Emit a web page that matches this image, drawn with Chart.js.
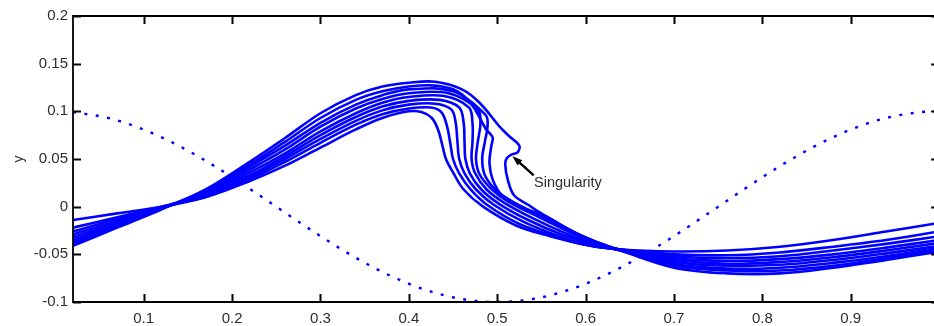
<!DOCTYPE html>
<html>
<head>
<meta charset="utf-8">
<script src="https://cdn.jsdelivr.net/npm/chart.js@4/dist/chart.umd.min.js"></script>
<style>
  html, body { margin: 0; padding: 0; background: #fff; overflow: hidden; }
  canvas { display: block; }
</style>
</head>
<body>
<canvas id="c" width="934" height="326"></canvas>
<script>
// Initial interface y = 0.1 cos(2πx), sampled along x (dotted curve)
const initialX = [0.02, 0.06, 0.10, 0.14, 0.18, 0.22, 0.26, 0.30, 0.34, 0.38, 0.42, 0.46, 0.50,
                  0.54, 0.58, 0.62, 0.66, 0.70, 0.74, 0.78, 0.82, 0.86, 0.90, 0.94, 0.98, 1.00];
const initialY = [0.0992, 0.0930, 0.0809, 0.0637, 0.0426, 0.0187, -0.0063, -0.0309, -0.0536, -0.0729, -0.0876, -0.0969, -0.1000,
                  -0.0969, -0.0876, -0.0729, -0.0536, -0.0309, -0.0063, 0.0187, 0.0426, 0.0637, 0.0809, 0.0930, 0.0992, 0.1000];

// Interface profiles at successive times, as (x, y) pairs along the sheet
const profile1 = [[0.02,-0.014],[0.07,-0.007],[0.12,0.000],[0.17,0.010],[0.22,0.027],[0.26,0.043],[0.30,0.062],[0.34,0.081],[0.37,0.093],[0.40,0.100],[0.415,0.099],[0.426,0.093],[0.433,0.081],[0.438,0.064],[0.442,0.050],[0.450,0.036],[0.462,0.018],[0.484,0.000],[0.522,-0.020],[0.56,-0.031],[0.60,-0.040],[0.64,-0.045],[0.70,-0.047],[0.76,-0.046],[0.82,-0.042],[0.88,-0.035],[0.94,-0.026],[1.00,-0.017]];
const profile2 = [[0.02,-0.022],[0.07,-0.011],[0.12,0.000],[0.17,0.011],[0.22,0.029],[0.26,0.047],[0.30,0.067],[0.34,0.086],[0.37,0.097],[0.40,0.103],[0.425,0.104],[0.437,0.099],[0.443,0.085],[0.447,0.066],[0.450,0.050],[0.457,0.035],[0.470,0.018],[0.490,0.001],[0.525,-0.018],[0.565,-0.031],[0.60,-0.040],[0.64,-0.045],[0.70,-0.050],[0.76,-0.051],[0.82,-0.048],[0.88,-0.042],[0.94,-0.035],[1.00,-0.026]];
const profile3 = [[0.02,-0.026],[0.07,-0.013],[0.12,-0.001],[0.17,0.012],[0.22,0.031],[0.26,0.050],[0.30,0.071],[0.34,0.090],[0.37,0.101],[0.40,0.107],[0.43,0.108],[0.448,0.102],[0.453,0.088],[0.455,0.068],[0.457,0.050],[0.463,0.035],[0.476,0.018],[0.496,0.002],[0.530,-0.016],[0.570,-0.031],[0.605,-0.041],[0.64,-0.045],[0.70,-0.052],[0.76,-0.054],[0.82,-0.052],[0.88,-0.046],[0.94,-0.039],[1.00,-0.031]];
const profile4 = [[0.02,-0.029],[0.07,-0.015],[0.12,-0.001],[0.17,0.013],[0.22,0.033],[0.26,0.053],[0.30,0.075],[0.34,0.094],[0.37,0.105],[0.40,0.111],[0.435,0.112],[0.457,0.104],[0.462,0.088],[0.463,0.068],[0.464,0.050],[0.469,0.035],[0.482,0.018],[0.502,0.003],[0.535,-0.014],[0.575,-0.030],[0.61,-0.040],[0.64,-0.045],[0.70,-0.054],[0.76,-0.057],[0.82,-0.055],[0.88,-0.050],[0.94,-0.043],[1.00,-0.035]];
const profile5 = [[0.02,-0.032],[0.07,-0.017],[0.12,-0.001],[0.17,0.014],[0.22,0.036],[0.26,0.056],[0.30,0.079],[0.34,0.098],[0.37,0.109],[0.40,0.115],[0.44,0.116],[0.468,0.104],[0.472,0.088],[0.472,0.068],[0.471,0.050],[0.475,0.035],[0.488,0.018],[0.508,0.004],[0.540,-0.012],[0.580,-0.029],[0.612,-0.040],[0.64,-0.046],[0.70,-0.056],[0.76,-0.060],[0.82,-0.058],[0.88,-0.053],[0.94,-0.046],[1.00,-0.038]];
const profile6 = [[0.02,-0.035],[0.07,-0.018],[0.12,-0.002],[0.17,0.015],[0.22,0.039],[0.26,0.060],[0.30,0.084],[0.34,0.103],[0.37,0.113],[0.40,0.119],[0.445,0.119],[0.478,0.102],[0.481,0.088],[0.478,0.068],[0.476,0.050],[0.480,0.034],[0.494,0.018],[0.513,0.005],[0.545,-0.010],[0.585,-0.028],[0.615,-0.040],[0.64,-0.046],[0.70,-0.058],[0.76,-0.062],[0.82,-0.061],[0.88,-0.056],[0.94,-0.049],[1.00,-0.041]];
const profile7 = [[0.02,-0.037],[0.07,-0.019],[0.12,-0.002],[0.17,0.016],[0.22,0.042],[0.26,0.064],[0.30,0.088],[0.34,0.107],[0.37,0.117],[0.40,0.123],[0.45,0.121],[0.487,0.096],[0.489,0.084],[0.486,0.068],[0.483,0.050],[0.486,0.033],[0.499,0.017],[0.518,0.005],[0.548,-0.009],[0.590,-0.028],[0.620,-0.040],[0.64,-0.046],[0.70,-0.060],[0.76,-0.065],[0.82,-0.064],[0.88,-0.059],[0.94,-0.052],[1.00,-0.043]];
const profile8 = [[0.02,-0.039],[0.07,-0.021],[0.12,-0.002],[0.17,0.017],[0.22,0.044],[0.26,0.068],[0.30,0.093],[0.34,0.112],[0.37,0.121],[0.40,0.126],[0.43,0.127],[0.455,0.121],[0.472,0.106],[0.4875,0.081],[0.4947,0.073],[0.4932,0.063],[0.4912,0.046],[0.495,0.028],[0.506,0.011],[0.525,0.000],[0.552,-0.009],[0.592,-0.029],[0.64,-0.046],[0.70,-0.062],[0.76,-0.067],[0.82,-0.067],[0.88,-0.062],[0.94,-0.054],[1.00,-0.045]];
const profile9 = [[0.02,-0.041],[0.07,-0.022],[0.12,-0.003],[0.17,0.018],[0.22,0.047],[0.26,0.072],[0.30,0.098],[0.34,0.117],[0.37,0.126],[0.40,0.130],[0.43,0.131],[0.46,0.123],[0.48,0.109],[0.5045,0.082],[0.516,0.072],[0.525,0.064],[0.523,0.057],[0.516,0.0547],[0.511,0.051],[0.509,0.045],[0.512,0.028],[0.519,0.012],[0.535,0.002],[0.548,-0.006],[0.596,-0.031],[0.64,-0.046],[0.70,-0.064],[0.76,-0.070],[0.82,-0.070],[0.88,-0.064],[0.94,-0.056],[1.00,-0.047]];

const profiles = [profile1, profile2, profile3, profile4, profile5, profile6, profile7, profile8, profile9];

// Axis ticks (the x axis runs on to 1, just past the visible right edge)
const xTickValues = [0.1, 0.2, 0.3, 0.4, 0.5, 0.6, 0.7, 0.8, 0.9];
const xTickLabels = ['0.1', '0.2', '0.3', '0.4', '0.5', '0.6', '0.7', '0.8', '0.9'];
const yTickValues = [-0.1, -0.05, 0, 0.05, 0.1, 0.15, 0.2];
const yTickLabels = ['-0.1', '-0.05', '0', '0.05', '0.1', '0.15', '0.2'];
const X_MIN = 0.02;
const X_END = 1.0;      // position of the right-hand frame
const X_VISIBLE = 0.9942; // last x value inside the canvas

// Callout pointing at the singular point of the last profile
const calloutText = 'Singularity';
const calloutTip = [0.5172, 0.0528];
const calloutTail = [0.5413, 0.0329];
const calloutTextAt = [0.5417, 0.0208];

const FONT = "'Liberation Sans', Arial, sans-serif";
const TEXT_COLOR = '#2e2e2e';
const BLUE = '#0000ff';
const TICK_LEN = 8;

const datasets = [
  {
    data: initialX.map((x, i) => ({ x, y: initialY[i] })),
    showLine: true,
    borderColor: BLUE,
    borderWidth: 2.4,
    borderDash: [3, 8.5],
    pointRadius: 0,
    cubicInterpolationMode: 'monotone'
  },
  ...profiles.map(p => ({
    data: p.map(([x, y]) => ({ x, y })),
    showLine: true,
    borderColor: BLUE,
    borderWidth: 2.6,
    pointRadius: 0,
    tension: 0.35
  }))
];

// Frame (left, top, bottom; the right side sits just off the canvas) with inward ticks
const framePlugin = {
  id: 'frame',
  afterDatasetsDraw(chart) {
    const { ctx, chartArea: a, scales: { x, y } } = chart;
    const right = x.getPixelForValue(X_END);
    ctx.save();
    ctx.strokeStyle = '#000';
    ctx.lineWidth = 1.8;
    ctx.beginPath();
    ctx.moveTo(right, a.top); ctx.lineTo(a.left, a.top);
    ctx.lineTo(a.left, a.bottom); ctx.lineTo(right, a.bottom);
    ctx.stroke();
    ctx.lineWidth = 2;
    ctx.beginPath();
    xTickValues.forEach(v => {
      const px = Math.round(x.getPixelForValue(v)) + 0.5;
      ctx.moveTo(px, a.bottom); ctx.lineTo(px, a.bottom - TICK_LEN);
      ctx.moveTo(px, a.top); ctx.lineTo(px, a.top + TICK_LEN);
    });
    yTickValues.forEach(v => {
      const py = Math.round(y.getPixelForValue(v)) + 0.5;
      ctx.moveTo(a.left, py); ctx.lineTo(a.left + TICK_LEN, py);
      ctx.moveTo(right, py); ctx.lineTo(right - TICK_LEN, py);
    });
    ctx.stroke();
    ctx.restore();
  }
};

// Arrow and label for the singularity
const calloutPlugin = {
  id: 'callout',
  afterDatasetsDraw(chart) {
    const { ctx, scales: { x, y } } = chart;
    const tx = x.getPixelForValue(calloutTip[0]), ty = y.getPixelForValue(calloutTip[1]);
    const sx = x.getPixelForValue(calloutTail[0]), sy = y.getPixelForValue(calloutTail[1]);
    const ang = Math.atan2(ty - sy, tx - sx);
    const head = 10, half = 3.5;
    ctx.save();
    ctx.strokeStyle = '#000';
    ctx.fillStyle = '#000';
    ctx.lineWidth = 2.4;
    ctx.beginPath();
    ctx.moveTo(sx, sy);
    ctx.lineTo(tx - Math.cos(ang) * head * 0.8, ty - Math.sin(ang) * head * 0.8);
    ctx.stroke();
    ctx.beginPath();
    ctx.moveTo(tx, ty);
    ctx.lineTo(tx - Math.cos(ang) * head - Math.sin(ang) * half, ty - Math.sin(ang) * head + Math.cos(ang) * half);
    ctx.lineTo(tx - Math.cos(ang) * head + Math.sin(ang) * half, ty - Math.sin(ang) * head - Math.cos(ang) * half);
    ctx.closePath();
    ctx.fill();
    ctx.font = '14.5px ' + FONT;
    ctx.fillStyle = TEXT_COLOR;
    ctx.textAlign = 'left';
    ctx.textBaseline = 'alphabetic';
    ctx.fillText(calloutText, x.getPixelForValue(calloutTextAt[0]), y.getPixelForValue(calloutTextAt[1]));
    ctx.restore();
  }
};

new Chart(document.getElementById('c'), {
  type: 'scatter',
  data: { datasets },
  options: {
    responsive: false,
    animation: false,
    events: [],
    layout: { padding: { top: 16, right: 0, left: 0, bottom: 0 } },
    plugins: { legend: { display: false }, tooltip: { enabled: false } },
    scales: {
      x: {
        type: 'linear',
        min: X_MIN,
        max: X_VISIBLE,
        grid: { display: false, drawTicks: false },
        border: { display: false },
        afterBuildTicks: s => { s.ticks = xTickValues.map(v => ({ value: v })); },
        afterFit: s => { s.height = 24; },
        ticks: {
          autoSkip: false,
          maxRotation: 0,
          padding: 8,
          color: TEXT_COLOR,
          font: { family: FONT, size: 15 },
          callback: (v, i) => xTickLabels[i]
        }
      },
      y: {
        type: 'linear',
        min: -0.1,
        max: 0.2,
        grid: { display: false, drawTicks: false },
        border: { display: false },
        afterBuildTicks: s => { s.ticks = yTickValues.map(v => ({ value: v })); },
        afterFit: s => { s.width = 73; },
        ticks: {
          autoSkip: false,
          padding: 5,
          color: TEXT_COLOR,
          font: { family: FONT, size: 15 },
          callback: (v, i) => yTickLabels[i]
        },
        title: {
          display: true,
          text: 'y',
          color: TEXT_COLOR,
          font: { family: FONT, size: 14 },
          padding: { top: 11, bottom: 0 }
        }
      }
    }
  },
  plugins: [framePlugin, calloutPlugin]
});
</script>
</body>
</html>
